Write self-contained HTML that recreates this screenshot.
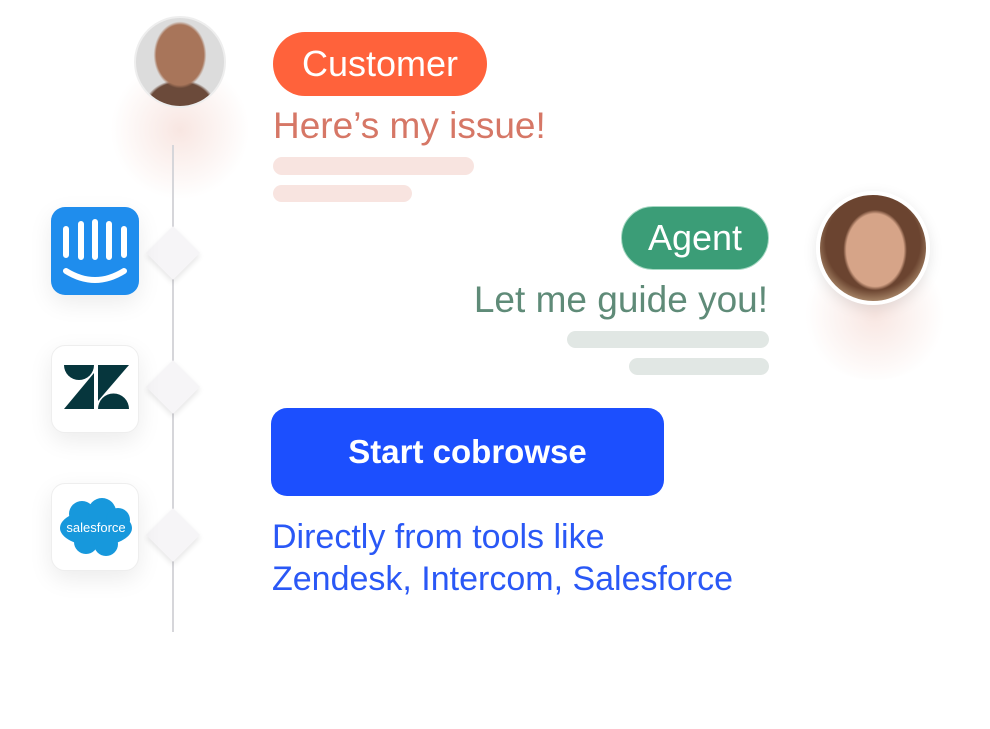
<!DOCTYPE html>
<html><head><style>
body{margin:0;width:990px;height:729px;background:#fff;position:relative;overflow:hidden;font-family:"Liberation Sans",sans-serif}
.a{position:absolute;white-space:nowrap}
.pill{position:absolute;border-radius:32px;color:#fff;font-size:36px;display:flex;align-items:center;justify-content:center}
.bar{position:absolute;border-radius:9px}
.ic{position:absolute;left:51px;width:88px;height:88px;border-radius:14px;box-shadow:0 8px 24px rgba(0,0,0,0.08)}
.dia{position:absolute;width:38px;height:38px;background:#f6f5f7;transform:rotate(45deg);box-shadow:2px 2px 6px rgba(0,0,0,0.1)}
</style></head><body>
<div class="a" style="left:110px;top:60px;width:140px;height:140px;border-radius:50%;background:radial-gradient(circle,rgba(240,200,190,0.45),rgba(255,255,255,0) 70%)"></div>
<div class="a" style="left:800px;top:250px;width:150px;height:130px;border-radius:50%;background:radial-gradient(circle,rgba(240,200,190,0.45),rgba(255,255,255,0) 70%)"></div>
<div class="a" style="left:172px;top:145px;width:2px;height:487px;background:#d6d6da"></div>
<div class="dia" style="left:154px;top:234px"></div>
<div class="dia" style="left:154px;top:368px"></div>
<div class="dia" style="left:154px;top:516px"></div>
<div class="a" style="left:134px;top:16px;width:88px;height:88px;border-radius:50%;background:radial-gradient(ellipse 30% 38% at 50% 42%,#a8755a 0 90%,transparent 100%),radial-gradient(ellipse 40% 30% at 50% 100%,#6b4a3a 0 90%,transparent 100%),#dcdcdc;border:2px solid #eee"></div>
<div class="a" style="left:816px;top:191px;width:106px;height:106px;border-radius:50%;background:radial-gradient(ellipse 30% 38% at 52% 52%,#d6a488 0 90%,transparent 100%),radial-gradient(circle at 50% 45%,#6b4430 0 60%,#a88668 75%);border:4px solid #fff;box-shadow:0 4px 14px rgba(0,0,0,0.1)"></div>
<div class="pill" style="left:273px;top:32px;width:214px;height:64px;background:#ff623b">Customer</div>
<div class="a" style="left:273px;top:105px;font-size:37px;color:#d67766">Here’s my issue!</div>
<div class="bar" style="left:273px;top:157px;width:201px;height:18px;background:#f8e4e0"></div>
<div class="bar" style="left:273px;top:185px;width:139px;height:17px;background:#f8e4e0"></div>
<div class="pill" style="left:621px;top:206px;width:148px;height:64px;background:#3b9d77;border:1px solid #a6d8c3;box-sizing:border-box">Agent</div>
<div class="a" style="right:222px;top:279px;font-size:37px;color:#5f8b78">Let me guide you!</div>
<div class="bar" style="left:567px;top:331px;width:202px;height:17px;background:#e1e7e4"></div>
<div class="bar" style="left:629px;top:358px;width:140px;height:17px;background:#e1e7e4"></div>
<div class="a" style="left:271px;top:408px;width:393px;height:88px;border-radius:16px;background:#1c4ffe;color:#fff;font-weight:bold;font-size:33px;display:flex;align-items:center;justify-content:center">Start cobrowse</div>
<div class="a" style="left:272px;top:516px;font-size:34px;line-height:42px;color:#2a58f6">Directly from tools like<br>Zendesk, Intercom, Salesforce</div>
<div class="ic" style="top:207px;background:#1f8ded">
<svg width="88" height="88"><g stroke="#fff" stroke-width="6" stroke-linecap="round" fill="none"><path d="M15 22v26M30 17v33M44 15v35M58 17v33M73 22v26"/><path d="M15 64q29 18 58 0"/></g></svg></div>
<div class="ic" style="top:345px;background:#fff;border:1px solid #eee;box-sizing:border-box">
<svg width="88" height="88"><g fill="#06363d"><path d="M12 19h30a15 15 0 0 1-30 0z"/><path d="M12 63h30V27z"/><path d="M46 19h31L46 55z"/><path d="M46 63a15.5 15.5 0 0 1 31 0z"/></g></svg></div>
<div class="ic" style="top:483px;background:#fff;border:1px solid #eee;box-sizing:border-box">
<svg width="88" height="88"><g fill="#1798dc"><ellipse cx="44" cy="44" rx="36" ry="18"/><circle cx="30" cy="30" r="13"/><circle cx="50" cy="28" r="14"/><circle cx="66" cy="36" r="12"/><circle cx="34" cy="58" r="12"/><circle cx="54" cy="60" r="12"/></g><text x="44" y="48" font-family="Liberation Sans" font-size="13" fill="#fff" text-anchor="middle">salesforce</text></svg></div>
</body></html>
